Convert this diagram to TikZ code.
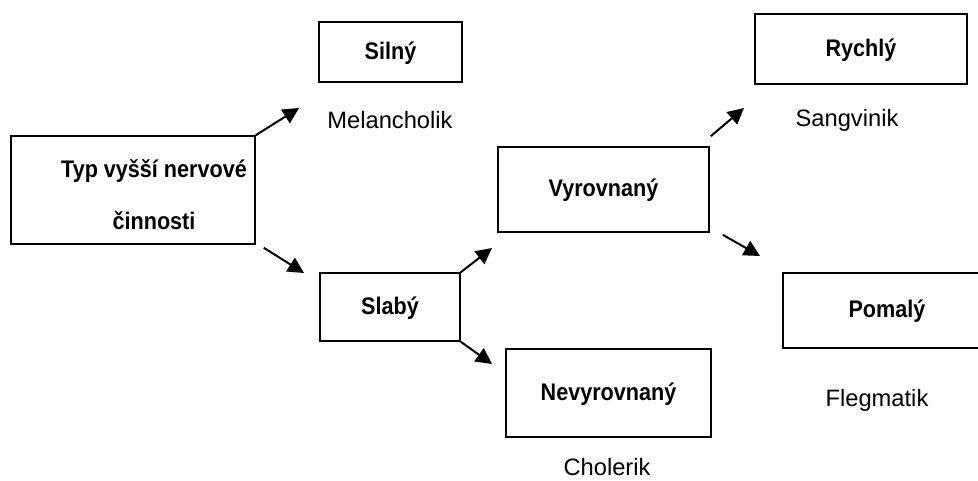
\documentclass[tikz,border=0pt]{standalone}
\usepackage{fontspec}
\setmainfont{Liberation Sans}
\newfontfamily\narrowbold{Liberation Sans}[FakeStretch=0.9]
\usetikzlibrary{arrows.meta, calc}

\begin{document}
\begin{tikzpicture}[x=1pt, y=-1pt,
	box/.style={draw, rectangle, line width=1.6pt, inner sep=0pt,
		font=\narrowbold\bfseries\fontsize{24}{52}\selectfont,
		text height=17pt, text depth=3pt},
	temper/.style={font=\fontsize{23.7}{28}\selectfont},
	arr/.style={-{Triangle[length=16pt, width=16pt]}, line width=2pt}]
	\useasboundingbox (0,0) rectangle (978,480);
	\clip (0,0) rectangle (978,480);

	% boxes
	\node[box, minimum width=244pt, minimum height=108pt] (typ) at (133,190) {};
	\node[font=\narrowbold\bfseries\fontsize{24}{52}\selectfont, align=center]
		(typtext) at (154,195) {Typ vyšší nervové\\činnosti};
	\node[box, minimum width=143pt, minimum height=60pt] (silny) at (390.5,52)
		{Silný};
	\node[box, minimum width=140pt, minimum height=68pt] (slaby) at (390,307)
		{Slabý};
	\node[box, minimum width=211pt, minimum height=85pt] (vyrovnany) at (603.5,189.5)
		{Vyrovnaný};
	\node[box, minimum width=205pt, minimum height=88pt] (nevyrovnany) at (608.5,393)
		{Nevyrovnaný};
	\node[box, minimum width=212pt, minimum height=70pt] (rychly) at (861,49)
		{Rychlý};
	\node[box, minimum width=208pt, minimum height=75pt] (pomaly) at (887,310.5)
		{Pomalý};

	% temperaments
	\node[temper] (melancholik) at (390,120) {Melancholik};
	\node[temper] (sangvinik)   at (847,120) {Sangvinik};
	\node[temper] (flegmatik)   at (877,400) {Flegmatik};
	\node[temper] (cholerik)    at (607,467) {Cholerik};

	% arrow tips
	\coordinate (tosilny)  at (299,108);
	\coordinate (toslaby)  at (304,273);
	\coordinate (tovyr)    at (492,248);
	\coordinate (tonevyr)  at (492,364);
	\coordinate (torychly) at (744,108);
	\coordinate (topomaly) at (760,256);

	\draw[arr] (typ.north east) -- (tosilny);
	\draw[arr] ($(typ.south east)+(8,3)$) -- (toslaby);
	\draw[arr] (slaby.north east) -- (tovyr);
	\draw[arr] (slaby.south east) -- (tonevyr);
	\draw[arr] ($(vyrovnany.north east)+(1,-10)$) -- (torychly);
	\draw[arr] ($(vyrovnany.south east)+(13,2)$) -- (topomaly);
\end{tikzpicture}
\end{document}
